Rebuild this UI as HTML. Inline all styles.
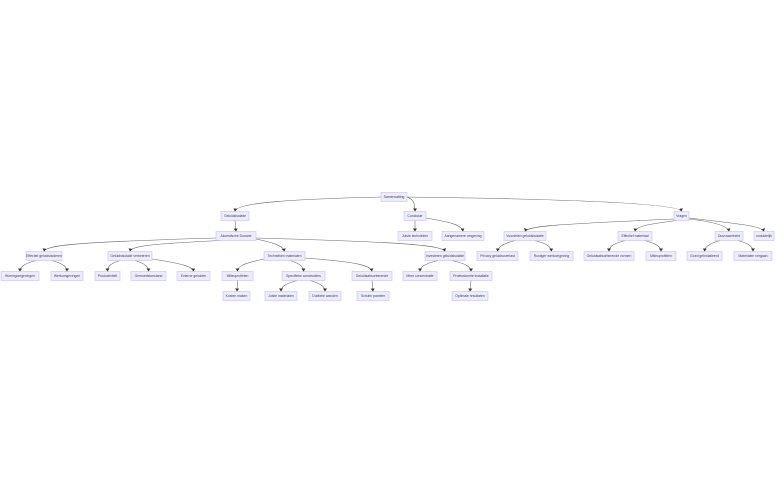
<!DOCTYPE html>
<html><head><meta charset="utf-8"><style>
html,body{margin:0;padding:0;background:#fff;width:784px;height:494px;overflow:hidden}
svg{display:block}
rect{fill:#ECECFF;stroke:#C9C0F2;stroke-width:0.6}
text{font-family:"Liberation Sans",sans-serif;font-size:3.4px;fill:#444;text-anchor:middle;dominant-baseline:central}
path{fill:none;stroke:#666;stroke-width:0.55}
</style></head><body>
<svg width="784" height="494" viewBox="0 0 784 494" xmlns="http://www.w3.org/2000/svg">
<defs><marker id="a" markerWidth="4" markerHeight="4" refX="3" refY="2" orient="auto" markerUnits="userSpaceOnUse"><path d="M0,0 L3,2 L0,4 z" style="fill:#333;stroke:none"/></marker></defs>
<g marker-end="url(#a)">
<path d="M381,197 C300,199 236,202 235,211.5"/>
<path d="M407,197 C413,199 415,203 415,211.5"/>
<path d="M407,197 C560,199 680,203 681.5,211.5"/>
<path d="M235,220.5 L236,231.5"/>
<path d="M415,220.5 L415,231.5"/>
<path d="M426,218 C450,222 462,225 463,231.5"/>
<path d="M674,219 C560,224 527,226 525,231.5"/>
<path d="M676,220.5 C650,224 636,226 635,231.5"/>
<path d="M689,219 C715,222 728,226 729,231.5"/>
<path d="M689,218 C740,224 762,226 764,231.5"/>
<path d="M216,238 C80,242 45,245 44,251.5"/>
<path d="M220,240.5 C150,244 131,246 130,251.5"/>
<path d="M256,239 C275,243 283,246 284.5,251.5"/>
<path d="M256,238 C400,242 443,245 445,251.5"/>
<path d="M515,240.5 C502,244 498,247 497.5,251.5"/>
<path d="M535,240.5 C548,244 551,247 551.5,251.5"/>
<path d="M625,240.5 C612,244 609,247 609,251.5"/>
<path d="M645,240.5 C657,244 661,247 661,251.5"/>
<path d="M720,240.5 C708,244 705,247 704.5,251.5"/>
<path d="M738,240.5 C750,244 753,247 753,251.5"/>
<path d="M36,260.5 C23,264 20,267 20,271.5"/>
<path d="M52,260.5 C64,264 67,267 67,271.5"/>
<path d="M120,260.5 C109,264 107.5,267 107.5,271.5"/>
<path d="M135,260.5 C146,264 148.5,267 148.5,271.5"/>
<path d="M152,259 C185,264 193,267 193.5,271.5"/>
<path d="M264,259 C240,264 237.5,267 237.5,271.5"/>
<path d="M290,260.5 C301,264 303.5,267 303.5,271.5"/>
<path d="M305,258 C360,262 371,266 372,271.5"/>
<path d="M438,260.5 C424,264 420,267 420,271.5"/>
<path d="M452,260.5 C467,264 471,267 471,271.5"/>
<path d="M237.5,280.5 L237,291.5"/>
<path d="M297,280.5 C284,284 281,287 281,291.5"/>
<path d="M310,280.5 C322,284 325,287 325,291.5"/>
<path d="M372,280.5 L373,291.5"/>
<path d="M471,280.5 L470,291.5"/>
</g>
<g>
<rect x="381" y="192.5" width="26" height="9"/><text x="394" y="197">Samenvatting</text>
<rect x="221" y="211.5" width="28" height="9"/><text x="235" y="216">Geluidsisolatie</text>
<rect x="404" y="211.5" width="22" height="9"/><text x="415" y="216">Conclusie</text>
<rect x="674" y="211.5" width="15" height="9"/><text x="681.5" y="216">Vragen</text>
<rect x="216" y="231.5" width="40" height="9"/><text x="236" y="236">Akoestische Douane</text>
<rect x="398" y="231.5" width="34" height="9"/><text x="415" y="236">Juiste technieken</text>
<rect x="442" y="231.5" width="42" height="9"/><text x="463" y="236">Aangenamere omgeving</text>
<rect x="504" y="231.5" width="42" height="9"/><text x="525" y="236">Voordelen geluidsisolatie</text>
<rect x="618" y="231.5" width="34" height="9"/><text x="635" y="236">Effectief materiaal</text>
<rect x="715" y="231.5" width="28" height="9"/><text x="729" y="236">Duurzaamheid</text>
<rect x="754" y="231.5" width="20" height="9"/><text x="764" y="236">onduidelijk</text>
<rect x="26" y="251.5" width="36" height="9"/><text x="44" y="256">Effectief geluidsisoleren</text>
<rect x="108" y="251.5" width="44" height="9"/><text x="130" y="256">Geluidsisolatie verbeteren</text>
<rect x="264" y="251.5" width="41" height="9"/><text x="284.5" y="256">Technieken materialen</text>
<rect x="425" y="251.5" width="40" height="9"/><text x="445" y="256">Investeren geluidsisolatie</text>
<rect x="477" y="251.5" width="41" height="9"/><text x="497.5" y="256">Privacy geluidsoverlast</text>
<rect x="530" y="251.5" width="43" height="9"/><text x="551.5" y="256">Rustiger werkomgeving</text>
<rect x="584" y="251.5" width="50" height="9"/><text x="609" y="256">Geluidsabsorberende vormen</text>
<rect x="646" y="251.5" width="30" height="9"/><text x="661" y="256">Milieuprofielen</text>
<rect x="687" y="251.5" width="35" height="9"/><text x="704.5" y="256">Goed geïnstalleerd</text>
<rect x="734" y="251.5" width="38" height="9"/><text x="753" y="256">Materialen vergaan</text>
<rect x="1" y="271.5" width="38" height="9"/><text x="20" y="276">Woningomgevingen</text>
<rect x="51" y="271.5" width="32" height="9"/><text x="67" y="276">Werkomgevingen</text>
<rect x="95" y="271.5" width="25" height="9"/><text x="107.5" y="276">Productiviteit</text>
<rect x="131" y="271.5" width="35" height="9"/><text x="148.5" y="276">Gemoedstoestand</text>
<rect x="177" y="271.5" width="33" height="9"/><text x="193.5" y="276">Externe geluiden</text>
<rect x="222" y="271.5" width="31" height="9"/><text x="237.5" y="276">Milieuprofielen</text>
<rect x="282" y="271.5" width="43" height="9"/><text x="303.5" y="276">Specifieke constructies</text>
<rect x="352" y="271.5" width="40" height="9"/><text x="372" y="276">Geluidsabsorberende</text>
<rect x="403" y="271.5" width="34" height="9"/><text x="420" y="276">Meer concentratie</text>
<rect x="450" y="271.5" width="42" height="9"/><text x="471" y="276">Professionele installatie</text>
<rect x="223" y="291.5" width="27" height="9"/><text x="236.5" y="296">Kosten maken</text>
<rect x="265" y="291.5" width="32" height="9"/><text x="281" y="296">Juiste materialen</text>
<rect x="309" y="291.5" width="32" height="9"/><text x="325" y="296">Dubbele wanden</text>
<rect x="357" y="291.5" width="32" height="9"/><text x="373" y="296">Schuim panelen</text>
<rect x="452" y="291.5" width="36" height="9"/><text x="470" y="296">Optimale resultaten</text>
</g>
</svg>
</body></html>
